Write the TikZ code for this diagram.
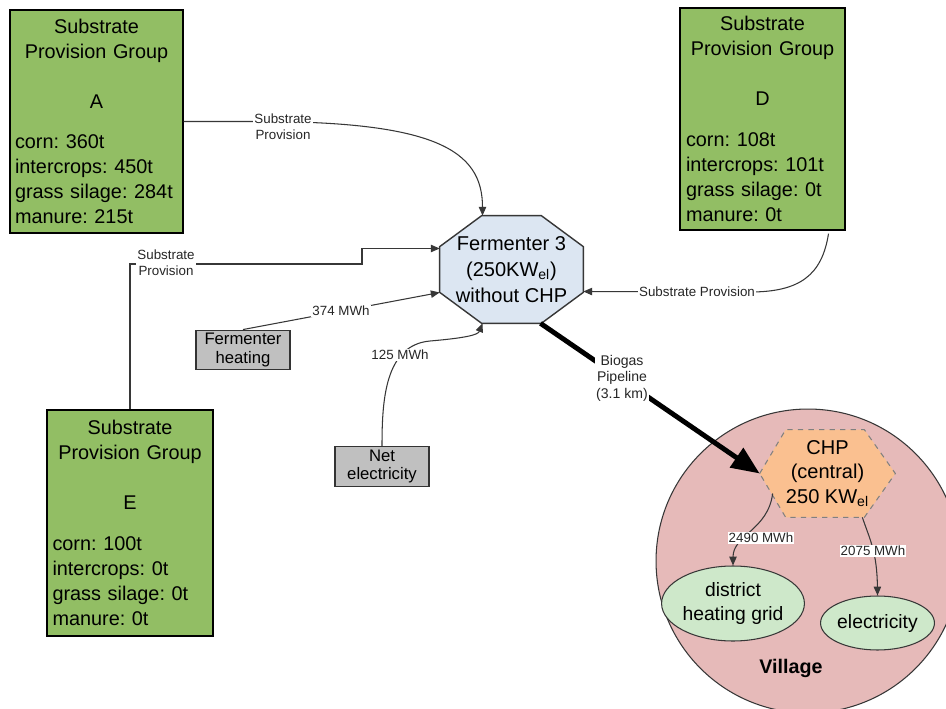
\documentclass[tikz,border=0pt]{standalone}
\usepackage{fontspec}
\setmainfont{Liberation Sans}
\usetikzlibrary{arrows.meta,calc,backgrounds,shapes.geometric}

\definecolor{grpgreen}{RGB}{146,190,100}
\definecolor{boxgray}{RGB}{192,192,192}
\definecolor{fermblue}{RGB}{220,230,242}
\definecolor{chporange}{RGB}{250,192,144}
\definecolor{villagepink}{RGB}{230,186,185}
\definecolor{sinkgreen}{RGB}{206,232,202}
\definecolor{linegray}{RGB}{55,55,55}

% contents of a substrate provision group box
\newcommand{\grouptext}[5]{%
  {\centering Substrate\\Provision Group\\[\baselineskip]#1\par}%
  \vspace{9pt}%
  {\raggedright #2\\#3\\#4\\#5\par}}

\frenchspacing

\begin{document}
\begin{tikzpicture}[x=0.02cm,y=-0.02cm,
  grp/.style={draw=black, line width=0.8pt, fill=grpgreen, inner sep=0pt,
    font=\fontsize{11.3}{14.2}\selectfont,
    execute at begin node={\setlength{\parindent}{0pt}\frenchspacing}},
  srcbox/.style={draw=black!80, line width=0.8pt, fill=boxgray, align=center,
    font=\fontsize{9.5}{10.8}\selectfont, minimum width=1.88cm,
    minimum height=0.79cm, inner sep=0pt},
  conn/.style={draw=linegray, line width=0.6pt,
    -{Triangle[length=5pt,width=4.2pt]}},
  lbl/.style={fill=white, inner sep=0.6pt, align=center, text=black!85,
    font=\fontsize{7.6}{9}\selectfont},
  sink/.style={ellipse, draw=linegray, line width=0.6pt, fill=sinkgreen,
    inner sep=0pt, align=center, font=\fontsize{11}{13.6}\selectfont},
  pipe/.style={draw=black, line width=2.8pt,
    -{Triangle[length=16pt,width=13pt]}}]

\useasboundingbox (0,0) rectangle (946,709);

% page background and village area
\begin{scope}[on background layer]
  \fill[white] (0,0) rectangle (946,709);
  \draw[fill=villagepink, draw=linegray, line width=0.6pt]
    (808,561) circle [radius=3.04cm];
\end{scope}

% substrate provision groups
\node[grp, minimum width=3.46cm, minimum height=4.46cm, text width=3.26cm]
  (A) at (96.5,121.5)
  {\grouptext{A}{corn: 360t}{intercrops: 450t}{grass silage: 284t}{manure: 215t}};
\node[grp, minimum width=3.3cm, minimum height=4.44cm, text width=3.06cm]
  (D) at (762.5,119)
  {\grouptext{D}{corn: 108t}{intercrops: 101t}{grass silage: 0t}{manure: 0t}};
\node[grp, minimum width=3.32cm, minimum height=4.52cm, text width=3.1cm]
  (E) at (130,523)
  {\grouptext{E}{corn: 100t}{intercrops: 0t}{grass silage: 0t}{manure: 0t}};

% energy sources
\node[srcbox] (heat) at (243,350) {Fermenter\\heating};
\node[srcbox] (net) at (382,466.5) {Net\\electricity};

% fermenter (octagon drawn behind its text)
\node[minimum width=2.86cm, minimum height=2.14cm, inner sep=0pt, align=center,
  font=\fontsize{11.4}{14.7}\selectfont] (ferm) at (511.5,269.5)
  {Fermenter 3\\(250KW\textsubscript{el})\\without CHP};
\begin{scope}[on background layer]
  \draw[fill=fermblue, draw=linegray, line width=0.8pt]
    ($(ferm.north west)+(42,0)$) -- ($(ferm.north east)+(-42,0)$)
    -- ($(ferm.north east)+(0,31)$) -- ($(ferm.south east)+(0,-31)$)
    -- ($(ferm.south east)+(-42,0)$) -- ($(ferm.south west)+(42,0)$)
    -- ($(ferm.south west)+(0,-31)$) -- ($(ferm.north west)+(0,31)$) -- cycle;
\end{scope}

% central CHP (hexagon drawn behind its text)
\node[minimum width=2.7cm, minimum height=1.74cm, inner sep=0pt, align=center,
  font=\fontsize{11.4}{13.9}\selectfont] (chp) at (827.5,473.5)
  {CHP\\(central)\\250 KW\textsubscript{el}};
\begin{scope}[on background layer]
  \draw[fill=chporange, draw=gray, dashed, line width=0.6pt]
    (chp.west) -- ($(chp.north west)+(26,0)$) -- ($(chp.north east)+(-31,0)$)
    -- (chp.east) -- ($(chp.south east)+(-31,0)$) -- ($(chp.south west)+(26,0)$)
    -- cycle;
\end{scope}

% consumers in the village
\node[sink, minimum width=2.4cm, minimum height=1.5cm] (dist) at (733,603.5)
  {district\\heating grid};
\node[sink, minimum width=2.14cm, minimum height=1.08cm] (elec) at (877.5,623)
  {electricity};
\node[font=\bfseries\fontsize{11.2}{13}\selectfont] (vil) at (791,668) {Village};

% substrate flows
\draw[conn] (A.east) -- ++(70,0) .. controls (435,121) and (482.5,150) ..
  ($(ferm.north)+(-29,0)$);
\draw[conn] (E.north) |- (362,264) |- ($(ferm.west)+(0,-21)$);
\draw[conn] ($(D.south)+(66,3)$) .. controls (822,275) and (800,292) ..
  (750,292) -- ($(ferm.east)+(0,22)$);

% energy input flows
\draw[conn] (heat.north) -- ($(ferm.west)+(0,23)$);
\draw[conn] (net.north) .. controls (382,400) and (385,345) .. (430,341)
  .. controls (465,338) and (478,335) .. ($(ferm.south)+(-29,0)$);

% biogas pipeline
\draw[pipe] ($(ferm.south)+(29,0)$) -- (chp.west);

% CHP outputs
\draw[conn] ($(chp.west)+(13,20)$) .. controls (768,530) and (733,535) ..
  (dist.north);
\draw[conn] ($(chp.south east)+(-33,0)$) .. controls (870,540) and (877,552) ..
  (elec.north);

% flow labels
\node[lbl] (lA) at (283,127) {Substrate\\Provision};
\node[lbl] (lE) at (166,263) {Substrate\\Provision};
\node[lbl] (lD) at (697,292) {Substrate Provision};
\node[lbl] (lheat) at (341,311) {374 MWh};
\node[lbl] (lnet) at (400,355) {125 MWh};
\node[lbl, font=\fontsize{8}{9.4}\selectfont] (lpipe) at (622,378)
  {Biogas\\Pipeline\\(3.1 km)};
\node[lbl] (ldist) at (761,538) {2490 MWh};
\node[lbl] (lelec) at (873,551) {2075 MWh};

\end{tikzpicture}
\end{document}
